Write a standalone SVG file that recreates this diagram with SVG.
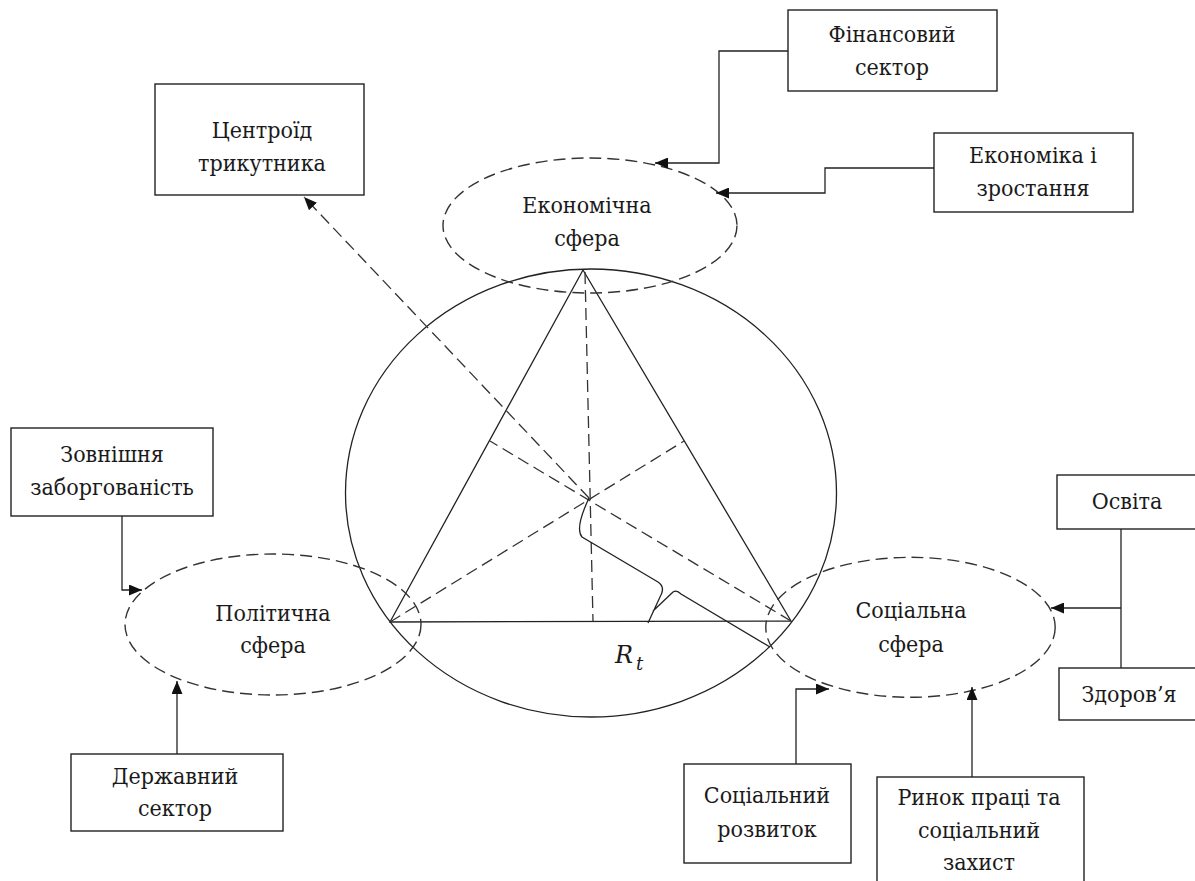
<svg xmlns="http://www.w3.org/2000/svg" width="1195" height="881" viewBox="0 0 1195 881">
<style>
.bx{fill:#fff;stroke:#222;stroke-width:1.4}
.el{fill:none;stroke:#333;stroke-width:1.4;stroke-dasharray:12 6}
.ln{fill:none;stroke:#222;stroke-width:1.3}
.dl{fill:none;stroke:#333;stroke-width:1.3;stroke-dasharray:12 6}
.t{font-family:'DejaVu Serif',serif;font-stretch:condensed;font-size:23px;fill:#1a1a1a;text-anchor:middle}
.m{font-family:'DejaVu Serif',serif;font-style:italic;fill:#1a1a1a}
</style>
<defs>
<marker id="ah" markerUnits="userSpaceOnUse" markerWidth="13" markerHeight="11" refX="13" refY="5.5" orient="auto">
<path d="M0,0 L13,5.5 L0,11 z" fill="#111"/>
</marker>
</defs>
<rect width="1195" height="881" fill="#fff"/>

<g id="geometry">
<ellipse cx="591" cy="493" rx="245.5" ry="224" class="ln"/>
<polygon points="583,270 390,622 791,621" class="ln"/>
<line x1="585" y1="272" x2="593" y2="621" class="dl"/>
<line x1="390" y1="622" x2="684" y2="441" class="dl"/>
<line x1="791" y1="621" x2="490" y2="441" class="dl"/>
<path d="M589,498 C581,515 576,530 582,537 L658,582 C664,586 663,592 660,597 L648,623 M653,611 L673,592 C676,590 679,592 681,594 L770,647" class="ln"/>
<text class="m" x="615" y="663" font-size="24">R</text>
<text class="m" x="636" y="670" font-size="18">t</text>
</g>

<g id="econ">
<ellipse cx="590" cy="225.5" rx="147" ry="67.5" class="el"/>
<text class="t" x="587" y="213">Економічна</text>
<text class="t" x="587" y="246">сфера</text>
</g>
<g id="polit">
<ellipse cx="273" cy="624.5" rx="148" ry="70.5" class="el"/>
<text class="t" x="273" y="621">Політична</text>
<text class="t" x="273" y="653">сфера</text>
</g>
<g id="social">
<ellipse cx="910.5" cy="627.3" rx="144.7" ry="70" class="el"/>
<text class="t" x="911" y="618">Соціальна</text>
<text class="t" x="911" y="652">сфера</text>
</g>

<g id="fin">
<rect x="788" y="10" width="209" height="81" class="bx"/>
<text class="t" x="892" y="42">Фінансовий</text>
<text class="t" x="892" y="75">сектор</text>
</g>
<g id="growth">
<rect x="934" y="133" width="199" height="79" class="bx"/>
<text class="t" x="1033" y="163">Економіка і</text>
<text class="t" x="1033" y="196">зростання</text>
</g>
<g id="centroid">
<rect x="155" y="84" width="209" height="111" class="bx"/>
<text class="t" x="262" y="138">Центроїд</text>
<text class="t" x="262" y="171">трикутника</text>
</g>
<g id="debt">
<rect x="11" y="428" width="202" height="88" class="bx"/>
<text class="t" x="112" y="462">Зовнішня</text>
<text class="t" x="112" y="495">заборгованість</text>
</g>
<g id="state">
<rect x="71" y="754" width="212" height="77" class="bx"/>
<text class="t" x="175" y="784">Державний</text>
<text class="t" x="175" y="816">сектор</text>
</g>
<g id="edu">
<rect x="1057" y="475" width="150" height="54" class="bx"/>
<text class="t" x="1127" y="509">Освіта</text>
</g>
<g id="health">
<rect x="1059" y="668" width="150" height="52" class="bx"/>
<text class="t" x="1129" y="702">Здоров’я</text>
</g>
<g id="socdev">
<rect x="684" y="764" width="167" height="99" class="bx"/>
<text class="t" x="767" y="803">Соціальний</text>
<text class="t" x="767" y="837">розвиток</text>
</g>
<g id="labour">
<rect x="877" y="777" width="207" height="115" class="bx"/>
<text class="t" x="979" y="805">Ринок праці та</text>
<text class="t" x="979" y="838">соціальний</text>
<text class="t" x="979" y="870">захист</text>
</g>

<g id="connectors">
<polyline points="788,51 719,51 719,163 655,163" class="ln" marker-end="url(#ah)"/>
<polyline points="934,168 825,168 825,193 716,193" class="ln" marker-end="url(#ah)"/>
<line x1="589" y1="498" x2="304" y2="197" class="dl" marker-end="url(#ah)"/>
<polyline points="122,516 122,590 142,590" class="ln" marker-end="url(#ah)"/>
<line x1="177" y1="754" x2="177" y2="681" class="ln" marker-end="url(#ah)"/>
<line x1="1121" y1="529" x2="1121" y2="668" class="ln"/>
<line x1="1121" y1="608" x2="1051" y2="608" class="ln" marker-end="url(#ah)"/>
<polyline points="796,764 796,689 829,689" class="ln" marker-end="url(#ah)"/>
<line x1="972" y1="777" x2="972" y2="687" class="ln" marker-end="url(#ah)"/>
</g>
</svg>
